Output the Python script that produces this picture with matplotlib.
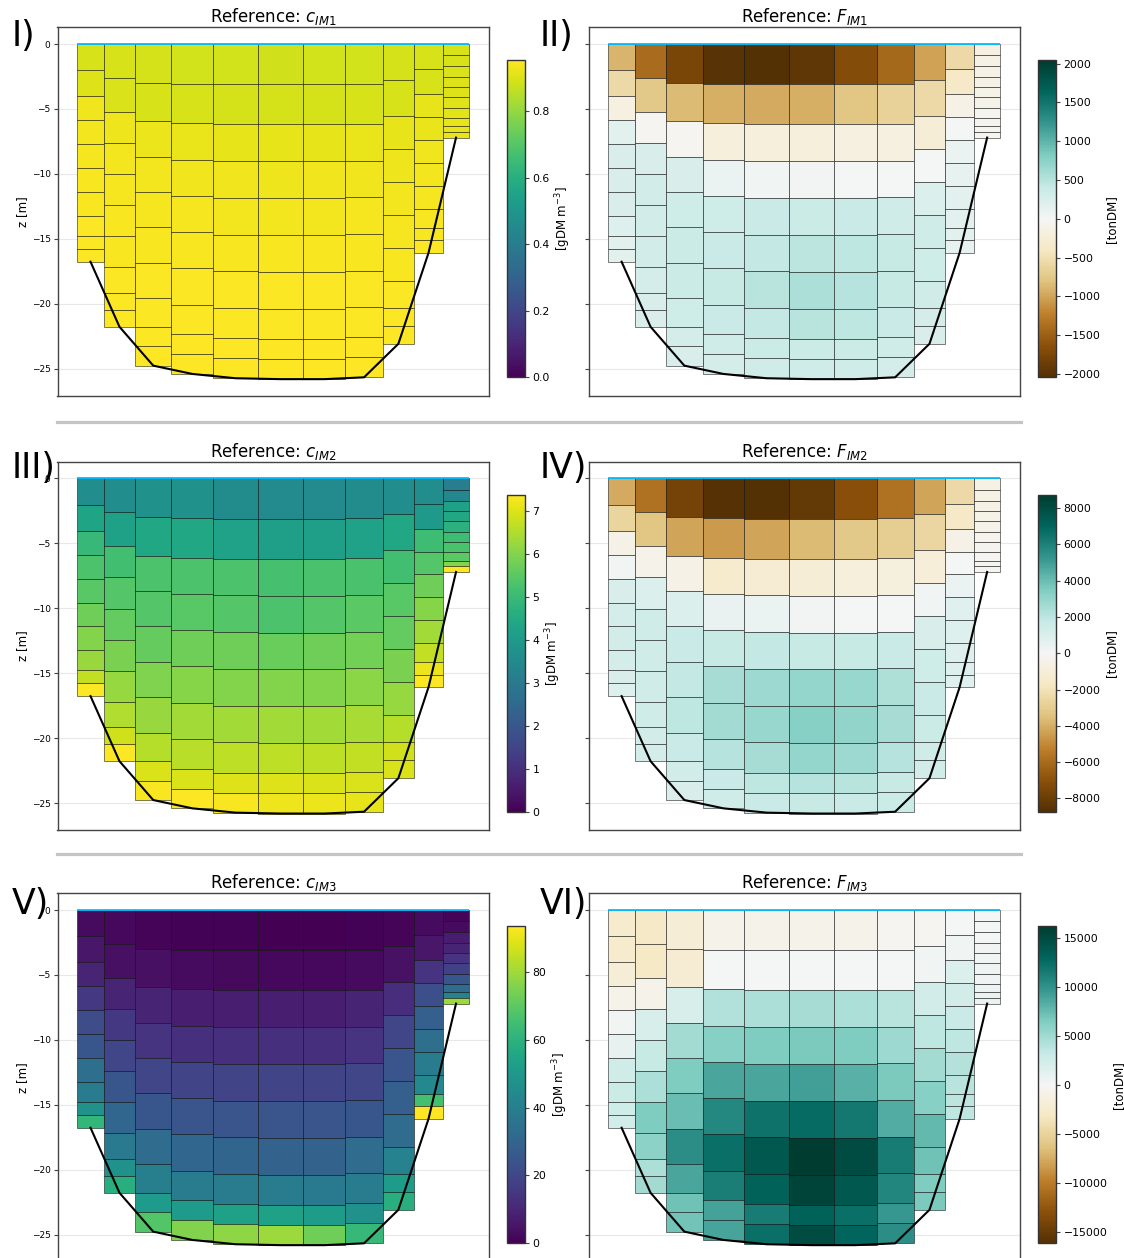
import numpy as np
import matplotlib
matplotlib.use("Agg")
import matplotlib.pyplot as plt
from matplotlib.patches import Rectangle
from matplotlib.collections import PatchCollection
from matplotlib.lines import Line2D
from matplotlib.colors import Normalize
from matplotlib.ticker import MultipleLocator

W, H, DPI = 1124, 1258, 100

# ---------------------------------------------------------------------------
# Transect grid: column edges along the section [m], water depth of each
# column [m] and the sigma-layer thickness fractions (surface -> bottom)
# ---------------------------------------------------------------------------
col_edges = [0, 268, 579, 943, 1361, 1804, 2261, 2682, 3054, 3368, 3657, 3918]
col_depth = [16.76, 21.77, 24.76, 25.40, 25.73, 25.80, 25.80, 25.66, 23.08, 16.07, 7.20]
layer_frac = [0.12, 0.12, 0.11, 0.11, 0.11, 0.11, 0.11, 0.09, 0.06, 0.06]

# ---------------------------------------------------------------------------
# Cell values, one list per column (surface layer first)
# ---------------------------------------------------------------------------
c_im1 = [
    [0.895, 0.900, 0.930, 0.937, 0.940, 0.942, 0.944, 0.945, 0.946, 0.947],
    [0.893, 0.898, 0.928, 0.935, 0.939, 0.942, 0.944, 0.946, 0.947, 0.948],
    [0.890, 0.895, 0.925, 0.934, 0.939, 0.942, 0.945, 0.947, 0.948, 0.949],
    [0.888, 0.893, 0.920, 0.932, 0.938, 0.942, 0.945, 0.947, 0.949, 0.950],
    [0.886, 0.891, 0.918, 0.930, 0.937, 0.942, 0.945, 0.948, 0.950, 0.951],
    [0.885, 0.890, 0.916, 0.929, 0.937, 0.942, 0.946, 0.948, 0.950, 0.952],
    [0.886, 0.891, 0.917, 0.930, 0.937, 0.942, 0.945, 0.948, 0.950, 0.951],
    [0.888, 0.893, 0.919, 0.931, 0.938, 0.942, 0.945, 0.947, 0.949, 0.950],
    [0.890, 0.894, 0.915, 0.928, 0.936, 0.940, 0.943, 0.945, 0.947, 0.948],
    [0.893, 0.896, 0.915, 0.922, 0.930, 0.936, 0.940, 0.942, 0.944, 0.945],
    [0.895, 0.896, 0.898, 0.900, 0.903, 0.906, 0.910, 0.915, 0.918, 0.920],
]

f_im1 = [
    [-900, -570, -160, 160, 245, 245, 245, 200, 160, 160],
    [-1390, -735, -40, 245, 306, 306, 306, 285, 245, 245],
    [-1760, -860, -40, 245, 347, 368, 368, 347, 285, 245],
    [-2000, -940, -205, 80, 350, 390, 410, 390, 330, 290],
    [-2042, -960, -205, 40, 390, 430, 490, 430, 370, 330],
    [-1960, -940, -205, 20, 370, 470, 570, 490, 370, 330],
    [-1680, -775, -160, 0, 390, 450, 510, 450, 370, 330],
    [-1430, -650, -160, 0, 327, 408, 408, 388, 327, 285],
    [-1020, -570, -245, 0, 225, 327, 347, 327, 285, 245],
    [-570, -370, -120, 0, 80, 140, 160, 160, 160, 140],
    [-150, -140, -130, -120, -100, -80, -60, -50, -40, -40],
]

c_im2 = [
    [3.60, 4.30, 4.95, 5.30, 5.45, 5.75, 6.00, 6.25, 6.70, 7.34],
    [3.60, 4.20, 5.15, 5.40, 5.60, 5.90, 6.20, 6.50, 6.85, 7.35],
    [3.70, 4.40, 5.30, 5.40, 5.65, 5.95, 6.25, 6.55, 6.95, 7.30],
    [3.70, 4.40, 5.30, 5.45, 5.75, 6.05, 6.35, 6.60, 6.95, 7.35],
    [3.55, 4.25, 5.30, 5.40, 5.75, 6.00, 6.35, 6.65, 7.00, 7.30],
    [3.50, 4.15, 5.20, 5.30, 5.70, 6.00, 6.35, 6.65, 7.00, 7.20],
    [3.50, 4.15, 5.25, 5.40, 5.75, 6.00, 6.35, 6.65, 6.95, 7.15],
    [3.55, 4.25, 5.25, 5.50, 5.80, 6.10, 6.40, 6.70, 6.95, 7.10],
    [3.60, 4.40, 5.15, 5.45, 5.60, 5.90, 6.20, 6.55, 6.85, 6.95],
    [3.60, 4.00, 5.10, 5.40, 5.75, 6.05, 6.35, 6.70, 7.15, 7.35],
    [3.10, 3.45, 4.20, 4.40, 4.70, 5.10, 5.25, 5.50, 6.00, 7.38],
]

f_im2 = [
    [-4100, -2620, -520, 175, 1050, 1220, 1310, 1220, 1050, 870],
    [-5760, -3320, -350, 960, 1400, 1400, 1400, 1400, 1310, 1220],
    [-7680, -4280, -520, 960, 1660, 1830, 1920, 1660, 1310, 1050],
    [-8640, -4540, -1400, 440, 1750, 2530, 2620, 2180, 1660, 1400],
    [-8730, -4280, -1220, 350, 1830, 2790, 2880, 2530, 1920, 1660],
    [-8210, -3670, -1050, 90, 1750, 2970, 3320, 2970, 2180, 1750],
    [-7070, -3140, -870, 0, 1750, 2880, 3060, 2790, 2100, 1660],
    [-5760, -2970, -790, 0, 1660, 2360, 2530, 2180, 1750, 1570],
    [-4280, -2530, -960, 175, 1050, 1480, 1660, 1570, 1400, 1310],
    [-2440, -1570, -520, 0, 350, 790, 870, 870, 870, 790],
    [-600, -550, -500, -450, -400, -300, -250, -200, -150, -100],
]

c_im3 = [
    [2.8, 5.6, 9.3, 15.0, 21.5, 25.0, 33.6, 39.0, 46.7, 61.6],
    [1.9, 3.7, 9.3, 15.0, 19.6, 25.0, 31.0, 38.0, 46.7, 59.0],
    [0.9, 3.7, 9.3, 14.0, 19.6, 25.0, 32.7, 40.0, 51.0, 68.0],
    [0.5, 2.8, 7.9, 13.0, 18.7, 24.3, 31.0, 39.0, 51.0, 75.7],
    [0.4, 2.3, 7.9, 13.0, 18.7, 24.3, 30.0, 39.0, 53.0, 77.5],
    [0.3, 1.9, 7.9, 13.0, 18.7, 24.3, 29.4, 39.0, 53.0, 79.4],
    [0.3, 1.9, 7.9, 13.0, 18.7, 24.3, 29.4, 38.3, 51.4, 72.9],
    [0.5, 2.8, 9.3, 14.0, 19.6, 25.0, 32.7, 39.0, 46.7, 62.6],
    [1.0, 4.2, 12.0, 19.6, 24.3, 28.0, 32.7, 41.0, 51.4, 59.0],
    [2.8, 5.6, 14.0, 22.4, 28.0, 33.6, 39.0, 44.0, 65.4, 93.4],
    [1.0, 2.8, 7.0, 9.3, 14.0, 17.8, 25.0, 32.7, 41.0, 79.4],
]

f_im3 = [
    [-2590, -2590, -1940, -650, 320, 1130, 2590, 2910, 2750, 2430],
    [-2910, -3080, -650, 2100, 3240, 4530, 6480, 5830, 4530, 4860],
    [-1940, -2270, 2100, 4860, 6480, 7450, 10360, 8740, 7120, 6960],
    [-650, 0, 4210, 6150, 8740, 10690, 12300, 11330, 9070, 8900],
    [-650, 0, 4530, 6480, 8740, 12140, 13920, 13280, 11490, 12300],
    [-650, 0, 4700, 6640, 9230, 12630, 16190, 15540, 13280, 14890],
    [-650, 0, 4530, 6480, 8100, 11650, 14890, 13920, 12300, 12950],
    [-320, 0, 3890, 5180, 6640, 8420, 11490, 10850, 9710, 10360],
    [-320, 320, 2430, 3560, 4860, 6150, 7610, 7120, 6480, 6640],
    [0, 320, 1780, 2430, 3080, 3560, 4050, 3890, 3720, 3560],
    [0, 50, 100, 200, 300, 400, 500, 600, 650, 700],
]

titles = [r"Reference: $c_{IM1}$", r"Reference: $F_{IM1}$",
          r"Reference: $c_{IM2}$", r"Reference: $F_{IM2}$",
          r"Reference: $c_{IM3}$", r"Reference: $F_{IM3}$"]
panel_tags = ["I)", "II)", "III)", "IV)", "V)", "VI)"]
cbar_steps = [0.2, 500, 1, 2000, 20, 5000]
conc_label = r"[gDM m$^{-3}$]"
flux_label = "[tonDM]"

panels = [c_im1, f_im1, c_im2, f_im2, c_im3, f_im3]

# ---------------------------------------------------------------------------
fig = plt.figure(figsize=(W / DPI, H / DPI), dpi=DPI)
fig.patch.set_facecolor("white")


def px_rect(left, top, width, height):
    return [left / W, 1 - (top + height) / H, width / W, height / H]


def draw_section(ax, vals, cmap, norm):
    rects, flat = [], []
    for j, depth in enumerate(col_depth):
        x0, x1 = col_edges[j], col_edges[j + 1]
        z_top = 0.0
        for k, frac in enumerate(layer_frac):
            dz = frac * depth
            rects.append(Rectangle((x0, -(z_top + dz)), x1 - x0, dz))
            flat.append(vals[j][k])
            z_top += dz
    pc = PatchCollection(rects, cmap=cmap, norm=norm,
                         edgecolor=(0, 0, 0, 0.5), linewidth=0.7, zorder=2)
    pc.set_array(np.asarray(flat, dtype=float))
    ax.add_collection(pc)

    centers = 0.5 * (np.asarray(col_edges[:-1]) + np.asarray(col_edges[1:]))
    ax.plot(centers, -np.asarray(col_depth), color="black", lw=1.5, zorder=4)
    ax.plot([col_edges[0], col_edges[-1]], [0, 0], color="deepskyblue",
            lw=1.3, zorder=4, solid_capstyle="butt")

    xspan = col_edges[-1] - col_edges[0]
    zmax = max(col_depth)
    ax.set_xlim(col_edges[0] - 0.05 * xspan, col_edges[-1] + 0.05 * xspan)
    ax.set_ylim(-zmax - 0.05 * zmax, 0.05 * zmax)
    return pc


row_tops = [27.3, 461.7, 893.3]
col_lefts = [57.5, 588.6]
AX_W, AX_H = 431.2, 368.6
tag_x = [12, 540]
tag_y = [36, 468, 904]

for i, vals in enumerate(panels):
    r, c = divmod(i, 2)
    left, top = col_lefts[c], row_tops[r]
    ax = fig.add_axes(px_rect(left, top, AX_W, AX_H))
    arr = np.asarray(vals, dtype=float)
    if c == 0:
        cmap = "viridis"
        norm = Normalize(0, arr.max())
    else:
        cmap = "BrBG"
        m = np.abs(arr).max()
        norm = Normalize(-m, m)
    pc = draw_section(ax, vals, cmap, norm)

    ax.set_title(titles[i], fontsize=12, pad=2)
    ax.set_xticks([])
    ax.yaxis.set_major_locator(MultipleLocator(5))
    ax.tick_params(axis="y", length=3, width=0.8, color="#444444",
                   labelsize=6.5, pad=2, labelleft=(c == 0))
    if c == 0:
        ax.set_ylabel("z [m]", fontsize=8.5, labelpad=2)
    ax.grid(axis="y", color="#e8e8e8", lw=0.8)
    ax.set_axisbelow(True)
    for sp in ax.spines.values():
        sp.set_color("#444444")
        sp.set_linewidth(1.0)

    cax = fig.add_axes(px_rect(left + AX_W + 18, top + 33, 18, 317))
    cb = fig.colorbar(pc, cax=cax)
    cb.locator = MultipleLocator(cbar_steps[i])
    cb.update_ticks()
    cb.ax.tick_params(labelsize=7.8, length=3, width=0.8, color="#444444",
                      pad=2.5)
    cb.outline.set_edgecolor("#333333")
    cb.outline.set_linewidth(1.0)
    cb.set_label(conc_label if c == 0 else flux_label, fontsize=8.5,
                 labelpad=3)

    fig.text(tag_x[c] / W, 1 - tag_y[r] / H, panel_tags[i], fontsize=25,
             ha="left", va="center", zorder=10)

# separators between the rows
for y in (421.7, 854.3):
    fig.add_artist(Line2D([57 / W, 1021 / W], [1 - y / H, 1 - y / H],
                          color="#c4c4c4", lw=2.3, transform=fig.transFigure))

fig.savefig("out.png", dpi=DPI)
